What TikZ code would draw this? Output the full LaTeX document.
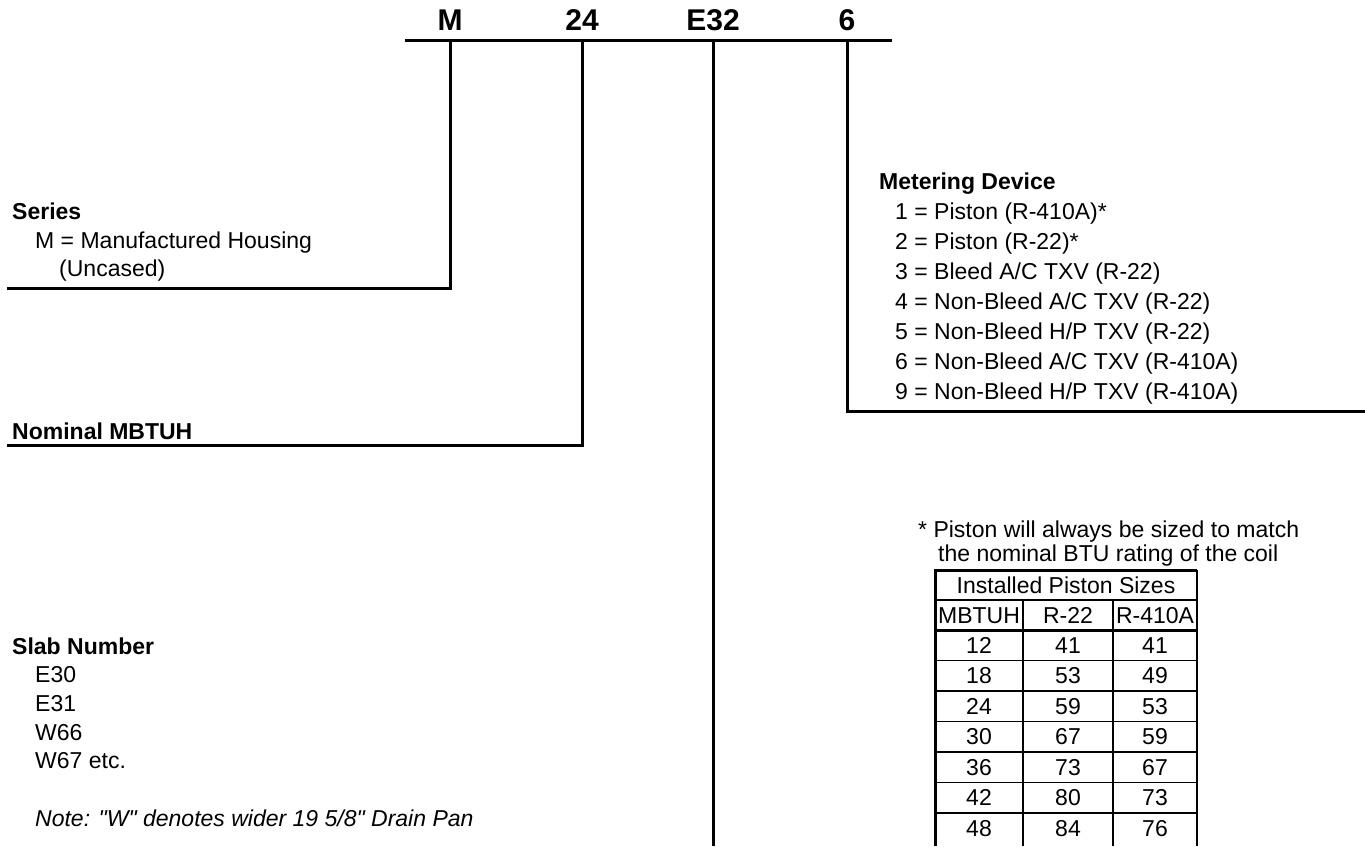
\documentclass[tikz,border=0pt]{standalone}
\usepackage{fontspec}
\setmainfont{Liberation Sans}
\newfontfamily\plainfont{Liberation Sans}
\begin{document}
\begin{tikzpicture}[x=1pt,y=-1pt,
		txt/.style={anchor=base west,inner sep=0pt,font=\fontsize{23}{28}\selectfont},
		hd/.style={txt,font=\fontsize{23}{28}\selectfont\bfseries},
		code/.style={anchor=base,inner sep=0pt,font=\fontsize{30}{36}\selectfont\bfseries},
		cell/.style={anchor=base,inner sep=0pt,font=\fontsize{23}{28}\selectfont},
		lead/.style={line width=3pt},
		grid/.style={line width=1.3pt}]
	\useasboundingbox (0,0) rectangle (1365,846);
	% model number and its leads
	\coordinate (cl) at (405,40);
	\coordinate (cr) at (892,40);
	\draw[lead] (cl) -- (cr);
	\foreach \x/\n/\t in {450/M/M,582/N/24,713/S/E32,847/D/6} {
		\coordinate (t\n) at (\x,40);
		\node[code] (c\n) at (\x,30) {\t};
	}
	\coordinate (eM) at (7,288);
	\coordinate (eN) at (7,445);
	\coordinate (eS) at (713,846);
	\coordinate (eD) at (1365,411);
	\draw[lead] (tM) |- (eM);
	\draw[lead] (tN) |- (eN);
	\draw[lead] (tS) -- (eS);
	\draw[lead] (tD) |- (eD);
	% left side
	\node[hd] (series) at (12,219) {Series};
	\node[txt] (seriesM) at (35,248) {M = Manufactured Housing};
	\node[txt] (seriesU) at (59,276) {(Uncased)};
	\node[hd] (mbtuh) at (12,439) {Nominal MBTUH};
	\node[hd] (slab) at (12,654) {Slab Number};
	\foreach \s [count=\i] in {E30,E31,W66,W67 etc.}
		\node[txt] (slab\i) at (35,{654+28.7*\i}) {\s};
	\node[txt,font=\plainfont\fontsize{23}{28}\selectfont\itshape] (note) at (35,826) {Note: "W" denotes wider 19 5/8" Drain Pan};
	% right side
	\node[hd] (meter) at (879,189) {Metering Device};
	\foreach \s [count=\i] in {1 = Piston (R-410A)*,2 = Piston (R-22)*,3 = Bleed A/C TXV (R-22),
			4 = Non-Bleed A/C TXV (R-22),5 = Non-Bleed H/P TXV (R-22),
			6 = Non-Bleed A/C TXV (R-410A),9 = Non-Bleed H/P TXV (R-410A)}
		\node[txt] (meter\i) at (895,{189+30*\i}) {\s};
	\node[txt] (pnote1) at (918,537) {* Piston will always be sized to match};
	\node[txt] (pnote2) at (938,561) {the nominal BTU rating of the coil};
	% piston table
	\draw[lead] (935,846) -- (935,570) -- (1197,570);
	\draw[grid] (1197,570) -- (1197,846);
	\draw[grid] (935,600) -- (1197,600);
	\draw[lead] (935,630) -- (1197,630);
	\draw[grid] (1023,600) -- (1023,846);
	\draw[grid] (1113,600) -- (1113,846);
	\foreach \i in {1,...,6}
		\draw[grid] (935,{630+30.5*\i}) -- (1197,{630+30.5*\i});
	\node[cell] (thead) at (1066,593) {Installed Piston Sizes};
	\node[cell] (hm) at (979,623) {MBTUH};
	\node[cell] (hr) at (1068,623) {R-22};
	\node[cell] (hq) at (1155,623) {R-410A};
	\foreach \a/\b/\c [count=\i] in {12/41/41,18/53/49,24/59/53,30/67/59,36/73/67,42/80/73,48/84/76} {
		\node[cell] (m\i) at (979,{630+30.5*(\i-0.5)+8}) {\a};
		\node[cell] (r\i) at (1068,{630+30.5*(\i-0.5)+8}) {\b};
		\node[cell] (q\i) at (1155,{630+30.5*(\i-0.5)+8}) {\c};
	}
\end{tikzpicture}
\end{document}
